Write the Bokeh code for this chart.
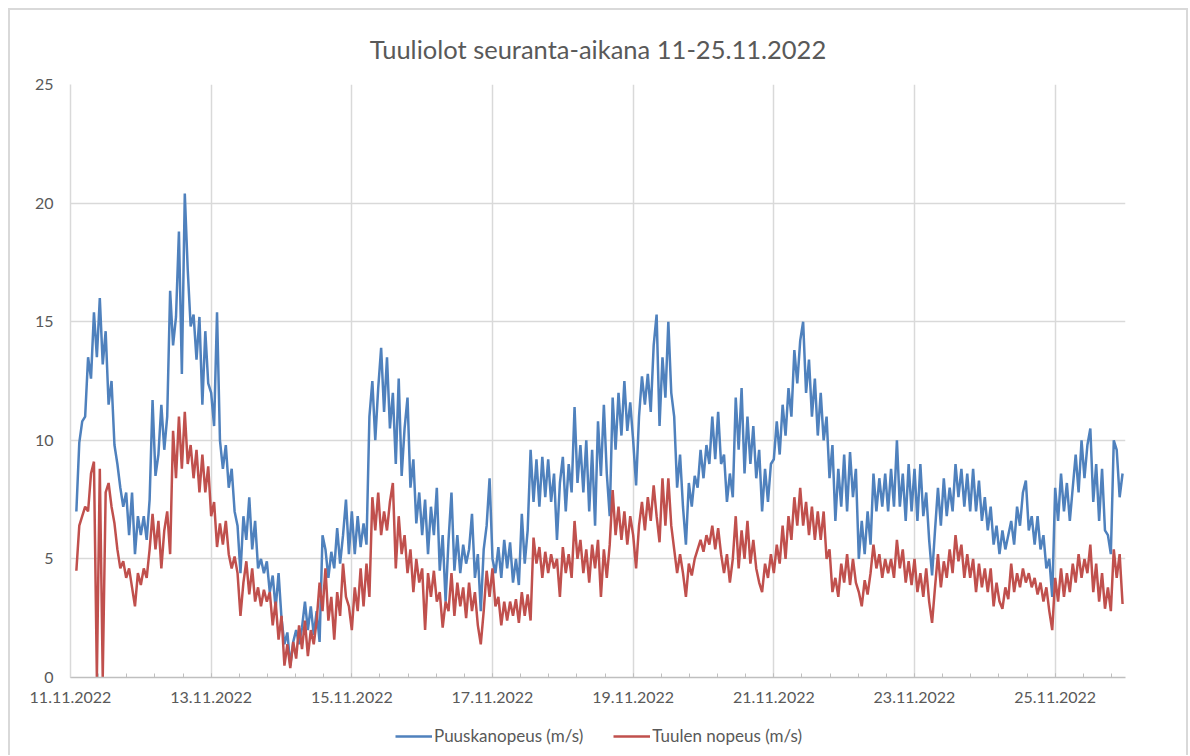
import numpy as np
import pandas as pd
from bokeh.plotting import figure
from bokeh.layouts import column
from bokeh.models import FixedTicker, Range1d, DatetimeTickFormatter, Legend, LegendItem
from bokeh.embed import file_html
from bokeh.resources import INLINE

title_text = "Tuuliolot seuranta-aikana 11-25.11.2022"
series_names = ["Puuskanopeus (m/s)", "Tuulen nopeus (m/s)"]
series_colors = ["#4F81BD", "#C0504D"]
first_time = "2022-11-11 02:00"
tick_labels = ["11.11.2022", "13.11.2022", "15.11.2022", "17.11.2022",
               "19.11.2022", "21.11.2022", "23.11.2022", "25.11.2022"]
y_ticks = [0, 5, 10, 15, 20, 25]

# Puuskanopeus (gust), hourly, per day
gust_11 = [7.0, 9.9, 10.8, 11.0, 13.5, 12.6, 15.4, 13.5, 16.0, 13.2, 14.6, 11.5, 12.5, 9.8, 9.0, 8.0, 7.2, 7.8, 6.0, 7.8, 5.2, 6.8]
gust_12 = [6.0, 6.8, 5.8, 7.5, 11.7, 8.5, 9.4, 11.5, 9.6, 11.0, 16.3, 14.0, 15.2, 18.8, 12.8, 20.4, 17.2, 14.8, 15.3, 13.4, 15.2, 11.5, 14.6, 12.4]
gust_13 = [12.0, 10.6, 15.4, 10.0, 8.8, 9.8, 8.0, 8.8, 7.0, 6.4, 4.4, 6.8, 5.8, 7.6, 5.4, 6.6, 4.6, 5.0, 4.4, 4.9, 3.6, 4.3, 2.9, 4.4]
gust_14 = [2.5, 1.4, 1.9, 0.5, 1.5, 2.0, 1.4, 2.1, 3.2, 2.0, 3.0, 1.8, 2.8, 1.5, 6.0, 5.4, 4.2, 5.3, 4.6, 6.3, 4.8, 6.0, 7.5, 5.2]
gust_15 = [7.0, 5.2, 6.8, 5.5, 6.5, 5.6, 11.0, 12.5, 10.0, 12.2, 13.9, 11.2, 13.5, 10.5, 12.0, 9.0, 12.6, 8.5, 10.5, 11.8, 8.0, 9.2, 6.5, 7.8]
gust_16 = [6.0, 7.5, 5.2, 7.2, 6.0, 8.0, 4.5, 6.0, 3.2, 5.8, 7.8, 4.5, 6.0, 4.4, 5.6, 4.8, 5.4, 6.9, 4.2, 5.2, 2.8, 5.4, 6.4, 8.4]
gust_17 = [5.0, 4.4, 5.5, 4.2, 5.8, 4.6, 5.7, 4.0, 5.0, 3.9, 6.9, 4.8, 6.2, 9.6, 7.4, 9.2, 7.2, 9.3, 7.6, 9.2, 7.4, 8.6, 5.8, 8.2]
gust_18 = [9.3, 7.0, 9.0, 7.8, 11.4, 8.2, 9.8, 7.8, 10.0, 7.0, 9.6, 6.4, 10.8, 8.5, 11.5, 8.6, 6.8, 11.8, 9.6, 12.0, 10.2, 12.5, 10.4, 11.6]
gust_19 = [10.0, 8.1, 11.0, 12.7, 11.5, 12.8, 11.2, 14.0, 15.3, 10.6, 13.5, 11.8, 15.0, 12.0, 11.0, 8.0, 9.4, 7.2, 5.6, 8.2, 7.2, 8.5, 8.0, 9.6]
gust_20 = [8.4, 9.8, 9.0, 11.0, 9.2, 11.2, 9.0, 9.4, 7.4, 8.6, 7.6, 11.8, 9.6, 12.2, 8.6, 11.0, 9.0, 10.6, 8.4, 9.6, 7.0, 8.8, 7.4, 9.0]
gust_21 = [9.2, 10.8, 9.4, 11.5, 10.2, 12.2, 11.0, 13.8, 12.4, 14.2, 15.0, 12.0, 13.4, 11.0, 12.6, 10.2, 12.0, 10.0, 11.0, 8.4, 9.8, 6.6, 8.8, 7.2]
gust_22 = [9.4, 7.0, 9.5, 7.6, 8.8, 5.0, 6.6, 5.2, 7.0, 5.6, 8.6, 7.0, 8.4, 7.2, 8.6, 7.0, 8.8, 7.2, 10.0, 7.2, 8.6, 6.6, 9.0, 7.0]
gust_23 = [8.8, 6.6, 9.0, 6.8, 7.8, 5.8, 4.3, 6.2, 8.0, 6.4, 8.4, 6.8, 8.0, 7.0, 9.0, 7.6, 8.8, 7.2, 8.6, 7.0, 8.8, 7.0, 8.3, 6.6]
gust_24 = [7.6, 6.2, 7.2, 5.6, 6.4, 5.2, 6.2, 5.4, 6.0, 6.6, 5.6, 7.2, 6.4, 7.8, 8.3, 6.2, 6.8, 5.6, 6.8, 5.4, 6.0, 4.6, 5.0, 3.4]
gust_25 = [8.0, 6.6, 8.6, 7.0, 8.2, 6.6, 8.0, 9.4, 7.8, 10.0, 8.4, 9.8, 10.5, 7.4, 9.0, 6.6, 8.8, 6.2, 6.0, 5.2, 10.0, 9.6, 7.6, 8.6]

# Tuulen nopeus (mean wind), hourly, per day
wind_11 = [4.5, 6.4, 6.8, 7.2, 7.0, 8.6, 9.1, 0.0, 8.8, 0.0, 7.8, 8.2, 7.2, 6.5, 5.4, 4.6, 4.9, 4.2, 4.6, 3.8, 3.0, 4.4]
wind_12 = [3.9, 4.6, 4.2, 5.4, 6.9, 5.4, 6.6, 4.6, 6.2, 7.0, 5.2, 10.4, 8.4, 11.0, 8.8, 11.2, 9.0, 9.8, 8.4, 9.6, 7.8, 9.4, 7.8, 8.9]
wind_13 = [6.8, 7.4, 5.5, 6.5, 5.6, 6.6, 5.2, 4.6, 5.1, 4.4, 2.6, 4.0, 4.9, 3.5, 4.6, 3.2, 3.8, 3.0, 3.7, 3.2, 3.6, 2.2, 3.2, 1.6]
wind_14 = [2.6, 0.5, 1.4, 0.4, 1.5, 0.8, 2.2, 1.2, 2.4, 0.9, 2.0, 1.4, 2.4, 4.0, 2.8, 4.6, 2.4, 3.4, 1.6, 3.6, 2.6, 4.8, 3.4, 3.0]
wind_15 = [2.0, 3.8, 2.8, 4.6, 3.0, 4.8, 3.4, 7.6, 6.2, 7.8, 6.0, 7.0, 6.2, 7.4, 8.2, 4.6, 6.8, 5.2, 6.0, 4.4, 5.4, 3.6, 5.0, 4.0]
wind_16 = [4.6, 2.0, 4.4, 3.4, 4.5, 3.2, 3.6, 2.1, 3.2, 2.8, 4.4, 2.6, 4.0, 3.0, 3.8, 2.5, 4.0, 2.8, 3.6, 2.2, 1.4, 2.8, 4.5, 3.4]
wind_17 = [4.6, 3.0, 3.4, 2.2, 3.2, 2.4, 3.2, 2.6, 3.3, 2.3, 3.6, 2.6, 3.5, 2.4, 5.9, 4.8, 5.5, 4.2, 5.3, 4.4, 5.2, 4.6, 5.0, 3.4]
wind_18 = [5.5, 4.4, 5.2, 4.2, 6.6, 5.0, 5.8, 4.4, 5.4, 4.0, 5.6, 4.6, 5.8, 3.4, 5.4, 4.2, 5.6, 7.9, 6.0, 7.2, 5.8, 7.0, 5.6, 6.8]
wind_19 = [6.0, 4.6, 6.4, 7.4, 6.2, 7.6, 6.6, 8.1, 6.8, 5.7, 8.4, 6.4, 8.4, 6.4, 5.4, 4.4, 5.2, 4.4, 3.4, 4.8, 4.3, 5.0, 5.4, 5.8]
wind_20 = [5.3, 6.0, 5.6, 6.4, 5.4, 6.3, 5.2, 4.4, 5.2, 4.0, 5.0, 6.8, 4.6, 6.2, 5.0, 6.6, 4.8, 5.8, 4.6, 4.0, 3.6, 4.8, 4.2, 5.2]
wind_21 = [4.4, 5.6, 4.8, 6.4, 5.0, 6.8, 5.8, 7.6, 6.4, 8.0, 6.4, 7.4, 6.0, 7.2, 5.8, 7.0, 5.8, 7.0, 5.0, 5.4, 3.6, 4.2, 3.4, 4.8]
wind_22 = [4.0, 5.2, 3.9, 5.0, 4.0, 3.6, 3.0, 4.1, 3.5, 4.4, 5.6, 4.6, 5.2, 4.2, 5.0, 4.4, 5.0, 4.2, 5.8, 4.6, 5.4, 4.0, 4.9, 3.9]
wind_23 = [5.0, 3.6, 4.4, 3.4, 4.6, 3.2, 2.3, 3.8, 5.2, 3.8, 4.9, 4.2, 5.4, 4.4, 6.0, 4.9, 5.6, 4.2, 5.2, 4.2, 5.0, 3.6, 4.8, 3.8]
wind_24 = [4.6, 3.6, 4.6, 3.0, 4.0, 3.2, 2.9, 3.8, 3.3, 4.8, 3.6, 4.4, 3.8, 4.6, 4.0, 4.4, 3.8, 4.2, 3.5, 4.0, 3.2, 3.8, 2.8, 2.0]
wind_25 = [4.2, 3.2, 4.6, 3.4, 4.4, 3.6, 4.8, 4.0, 5.2, 4.2, 5.0, 4.4, 5.6, 3.6, 4.8, 3.2, 4.4, 2.9, 3.8, 2.8, 5.4, 4.2, 5.2, 3.1]

gust = (gust_11 + gust_12 + gust_13 + gust_14 + gust_15 + gust_16 + gust_17 + gust_18
        + gust_19 + gust_20 + gust_21 + gust_22 + gust_23 + gust_24 + gust_25)
wind = (wind_11 + wind_12 + wind_13 + wind_14 + wind_15 + wind_16 + wind_17 + wind_18
        + wind_19 + wind_20 + wind_21 + wind_22 + wind_23 + wind_24 + wind_25)

times = pd.date_range(first_time, periods=len(gust), freq="h")

FONT = "Lato"
GREY_TXT = "#595959"
GRID = "#d9d9d9"
LINE_W = 2.5

x_start = pd.Timestamp("2022-11-11")
x_end = pd.Timestamp("2022-11-26")

W = 1176
p = figure(width=W, height=707, x_axis_type="datetime",
           x_range=Range1d(x_start, x_end), y_range=Range1d(0, 25),
           output_backend="svg", toolbar_location=None,
           min_border_left=60, min_border_right=61, min_border_top=70, min_border_bottom=40)

r_gust = p.line(times, gust, line_color=series_colors[0], line_width=LINE_W)
r_wind = p.line(times, wind, line_color=series_colors[1], line_width=LINE_W)

major_ms = [pd.Timestamp(pd.to_datetime(t, format="%d.%m.%Y")).value / 1e6 for t in tick_labels]
start_ms = x_start.value / 1e6
minor_ms = list(start_ms + np.arange(0, 15.0, 0.4) * 86400000.0)
p.xaxis.ticker = FixedTicker(ticks=major_ms, minor_ticks=minor_ms)
fmt = "%d.%m.%Y"
p.xaxis.formatter = DatetimeTickFormatter(microseconds=fmt, milliseconds=fmt, seconds=fmt,
                                          minsec=fmt, minutes=fmt, hourmin=fmt, hours=fmt,
                                          days=fmt, months=fmt, years=fmt)
p.yaxis.ticker = FixedTicker(ticks=y_ticks)

p.xgrid.grid_line_color = GRID
p.xgrid.grid_line_width = 1.5
p.ygrid.grid_line_color = GRID
p.ygrid.grid_line_width = 1.5
p.outline_line_color = None
p.background_fill_color = "white"
p.border_fill_color = "white"

xa = p.xaxis[0]
xa.axis_line_color = "#bfbfbf"
xa.axis_line_width = 1.5
xa.major_tick_in = 4
xa.major_tick_out = 0
xa.minor_tick_in = 4
xa.minor_tick_out = 0
xa.major_tick_line_color = "#bfbfbf"
xa.minor_tick_line_color = "#bfbfbf"
xa.major_label_text_font = FONT
xa.major_label_text_font_size = "16px"
xa.major_label_text_color = GREY_TXT
xa.major_label_standoff = 14

ya = p.yaxis[0]
ya.axis_line_color = GRID
ya.axis_line_width = 1.5
ya.major_tick_line_color = None
ya.minor_tick_line_color = None
ya.major_label_text_font = FONT
ya.major_label_text_font_size = "16px"
ya.major_label_text_color = GREY_TXT
ya.major_label_standoff = 11

p.title.text = title_text
p.title.align = "center"
p.title.text_font = FONT
p.title.text_font_size = "25.5px"
p.title.text_font_style = "normal"
p.title.text_color = GREY_TXT
p.title.standoff = 42

# legend strip below the chart
leg_fig = figure(width=W, height=38, x_range=Range1d(0, 1), y_range=Range1d(0, 1),
                 output_backend="svg", toolbar_location=None,
                 x_axis_location=None, y_axis_location=None, min_border=0)
leg_fig.grid.visible = False
leg_fig.outline_line_color = None
leg_fig.border_fill_color = "white"
k_gust = leg_fig.line(x=[np.nan], y=[np.nan], line_color=series_colors[0], line_width=LINE_W)
k_wind = leg_fig.line(x=[np.nan], y=[np.nan], line_color=series_colors[1], line_width=LINE_W)

legend = Legend(items=[LegendItem(label=series_names[0], renderers=[k_gust]),
                       LegendItem(label=series_names[1], renderers=[k_wind])],
                location=(325, 9), orientation="horizontal")
legend.label_text_font = FONT
legend.label_text_font_size = "17px"
legend.label_text_color = GREY_TXT
legend.glyph_width = 37
legend.glyph_height = 20
legend.label_standoff = 2
legend.spacing = 30
legend.padding = 2
legend.margin = 0
legend.border_line_color = None
legend.background_fill_alpha = 0
leg_fig.add_layout(legend, "center")

layout = column(p, leg_fig, spacing=0,
                styles={"margin": "8px 0px 0px 8px",
                        "border-top": "2px solid #d9d9d9",
                        "border-left": "2px solid #d9d9d9",
                        "border-right": "2px solid #d9d9d9"})

open("out.html", "w").write(file_html(layout, INLINE))
